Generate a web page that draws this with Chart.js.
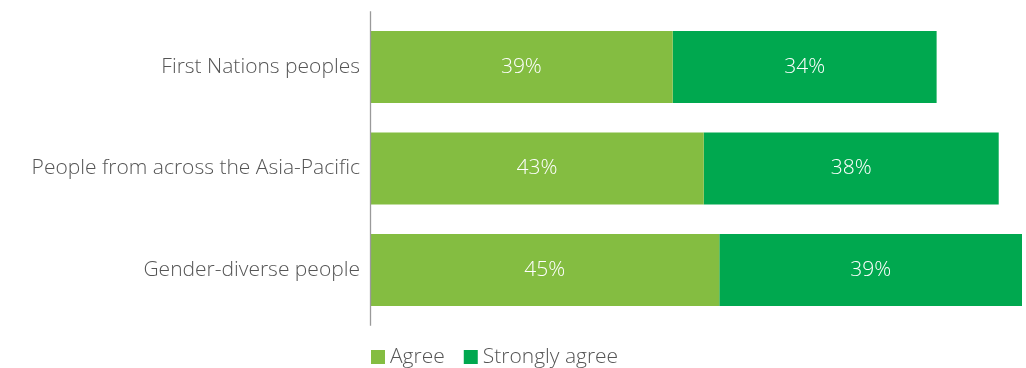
<!DOCTYPE html>
<html>
<head>
<meta charset="utf-8">
<script src="https://cdn.jsdelivr.net/npm/chart.js@4.4.1/dist/chart.umd.min.js"></script>
<style>
  html, body { margin: 0; padding: 0; background: #fff; }
  #wrap { width: 1026px; height: 368px; position: relative; }
</style>
</head>
<body>
<div id="wrap"><canvas id="c" width="1026" height="368"></canvas></div>
<script>
const categories = ['First Nations peoples', 'People from across the Asia-Pacific', 'Gender-diverse people'];
const agree = [39, 43, 45];
const stronglyAgree = [34, 38, 39];
const seriesNames = ['Agree', 'Strongly agree'];
const seriesColors = ['#84BD41', '#00A84F'];

const FONT = '"Open Sans", "Liberation Sans", sans-serif';
const FONT_SIZE = 21;

// Value labels centred inside each bar segment
const barLabels = {
  id: 'barLabels',
  afterDatasetsDraw(chart) {
    const ctx = chart.ctx;
    ctx.save();
    ctx.font = '300 ' + FONT_SIZE + 'px ' + FONT;
    ctx.fillStyle = '#ffffff';
    ctx.textAlign = 'center';
    ctx.textBaseline = 'middle';
    chart.data.datasets.forEach((ds, i) => {
      chart.getDatasetMeta(i).data.forEach((bar, j) => {
        const cx = (bar.x + bar.base) / 2;
        ctx.fillText(ds.data[j] + '%', cx, bar.y);
      });
    });
    ctx.restore();
  }
};

// Vertical axis line and legend under the plot
const axisAndLegend = {
  id: 'axisAndLegend',
  afterDraw(chart) {
    const ctx = chart.ctx;
    const a = chart.chartArea;
    ctx.save();
    ctx.strokeStyle = '#9a9a9a';
    ctx.lineWidth = 1.3;
    ctx.beginPath();
    ctx.moveTo(a.left + 0.5, a.top - 5);
    ctx.lineTo(a.left + 0.5, a.bottom + 5);
    ctx.stroke();

    ctx.font = '300 ' + FONT_SIZE + 'px ' + FONT;
    ctx.textBaseline = 'middle';
    ctx.textAlign = 'left';
    let x = a.left + 1;
    const y = 357;
    chart.data.datasets.forEach((ds) => {
      ctx.fillStyle = ds.backgroundColor;
      ctx.fillRect(x, y - 7, 14, 14);
      ctx.fillStyle = '#555555';
      ctx.fillText(ds.label, x + 19, y);
      x += 19 + ctx.measureText(ds.label).width + 19;
    });
    ctx.restore();
  }
};

new Chart(document.getElementById('c'), {
  type: 'bar',
  data: {
    labels: categories,
    datasets: [
      { label: seriesNames[0], data: agree, backgroundColor: seriesColors[0] },
      { label: seriesNames[1], data: stronglyAgree, backgroundColor: seriesColors[1] }
    ]
  },
  options: {
    indexAxis: 'y',
    responsive: false,
    animation: false,
    devicePixelRatio: 1,
    layout: { padding: { top: 16.25, bottom: 47.25, right: 4, left: 0 } },
    datasets: { bar: { categoryPercentage: 1, barPercentage: 0.71 } },
    plugins: { legend: { display: false }, tooltip: { enabled: false } },
    scales: {
      x: {
        stacked: true, min: 0, max: 84,
        display: false
      },
      y: {
        stacked: true,
        border: { display: false },
        grid: { display: false },
        ticks: {
          padding: 2,
          color: '#555555',
          font: { family: FONT, size: FONT_SIZE, weight: 300 }
        },
        afterFit(scale) {
          scale.width = 370;
          scale.paddingTop = 0;
          scale.paddingBottom = 0;
        }
      }
    }
  },
  plugins: [barLabels, axisAndLegend]
});
</script>
</body>
</html>
